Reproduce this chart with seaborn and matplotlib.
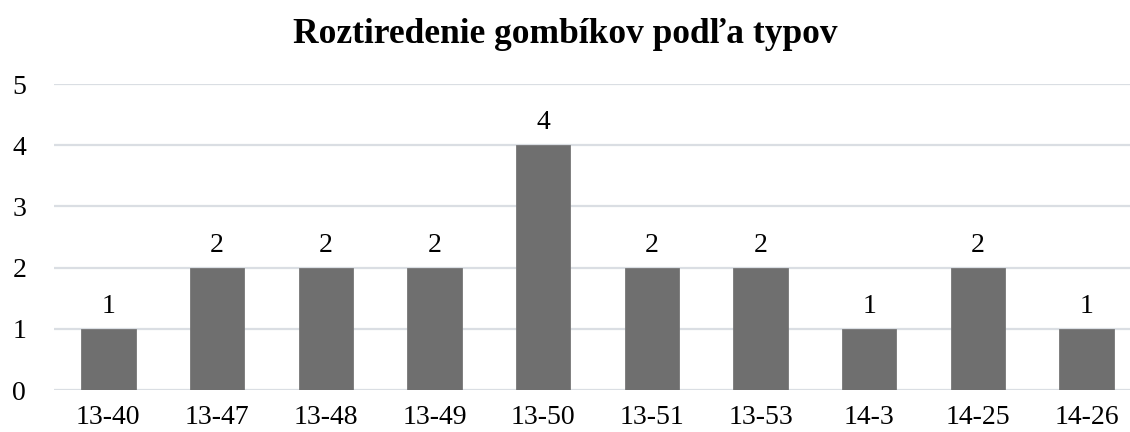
import matplotlib
matplotlib.use("Agg")
import matplotlib.pyplot as plt
import seaborn as sns
import pandas as pd

categories = ["13-40", "13-47", "13-48", "13-49", "13-50", "13-51", "13-53", "14-3", "14-25", "14-26"]
counts = [1, 2, 2, 2, 4, 2, 2, 1, 2, 1]
title = "Roztiredenie gombíkov podľa typov"

sns.set_style("white")
plt.rcParams['font.family'] = ['Liberation Serif', 'DejaVu Serif']

df = pd.DataFrame({"typ": categories, "pocet": counts})

fig = plt.figure(figsize=(11.3, 4.32), dpi=100)
ax = fig.add_axes([54 / 1130, 42 / 432, 1076 / 1130, 306 / 432])

sns.barplot(data=df, x="typ", y="pocet", color="#6f6f6f", saturation=1,
            width=0.5, ax=ax, zorder=3, edgecolor="#777777", linewidth=0.6)

ax.set_ylim(0, 5)
ax.set_xlim(-0.5, -0.5 + 1076 / 108.7)
ax.set_yticks(range(0, 6))
ax.yaxis.grid(True, color="#dadee3", linewidth=1.6, zorder=0)
ax.set_axisbelow(True)
for s in ax.spines.values():
    s.set_visible(False)
ax.set_xlabel("")
ax.set_ylabel("")
ax.tick_params(axis="y", length=0, pad=20, labelsize=20, labelcolor="#000000")
ax.tick_params(axis="x", length=0, pad=11, labelsize=20, labelcolor="#000000")

for c in ax.containers:
    ax.bar_label(c, labels=[str(v) for v in counts], padding=7, fontsize=20, color="#000000")

fig.text(0.5, (432 - 43) / 432, title, ha="center", va="baseline",
         fontsize=25.5, fontweight="bold", color="#000000")

fig.savefig("out.png", dpi=100, facecolor="white")
